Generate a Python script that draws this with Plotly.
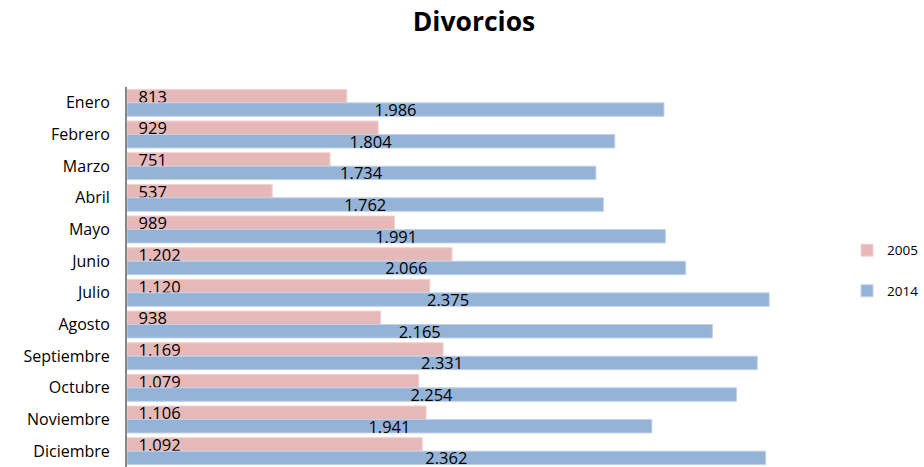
import plotly.graph_objects as go

months = ["Enero", "Febrero", "Marzo", "Abril", "Mayo", "Junio", "Julio",
          "Agosto", "Septiembre", "Octubre", "Noviembre", "Diciembre"]
v2005 = [813, 929, 751, 537, 989, 1202, 1120, 938, 1169, 1079, 1106, 1092]
v2014 = [1986, 1804, 1734, 1762, 1991, 2066, 2375, 2165, 2331, 2254, 1941, 2362]

FONT = "Open Sans"
NB = "\u00a0"

fig = go.Figure()
fig.add_trace(go.Bar(
    y=months, x=v2005, name="2005", orientation="h",
    marker=dict(color="#E6B9B8", line=dict(color="#F0D3D2", width=1)),
    texttemplate=NB * 2 + "%{x:,}", textposition="inside", insidetextanchor="start",
    constraintext="none", textangle=0,
    insidetextfont=dict(family=FONT, size=16.5, color="black"),
    legendgroup="a",
))
fig.add_trace(go.Bar(
    y=months, x=v2014, name="2014", orientation="h",
    marker=dict(color="#95B3D7", line=dict(color="#C0D2E8", width=1)),
    texttemplate="%{x:,}", textposition="inside", insidetextanchor="middle",
    constraintext="none", textangle=0,
    insidetextfont=dict(family=FONT, size=16.5, color="black"),
    legendgroup="b",
))

fig.update_layout(
    width=924, height=467,
    paper_bgcolor="white", plot_bgcolor="white",
    separators=",.",
    barmode="group", bargap=0.15, bargroupgap=0,
    margin=dict(l=127, r=121, t=87, b=0, autoexpand=False),
    font=dict(family=FONT, color="black"),
    title=dict(text="<b>Divorcios</b>", x=474 / 924, xanchor="center",
               y=1 - 22 / 467, yanchor="middle",
               font=dict(family=FONT, size=26.5, color="black")),
    xaxis=dict(range=[0, 2500], visible=False, showgrid=False, zeroline=False),
    yaxis=dict(autorange="reversed", showline=True, linecolor="#868686", linewidth=2,
               ticks="", ticklabelstandoff=12, automargin=False,
               tickfont=dict(family=FONT, size=16, color="black"),
               showgrid=False, zeroline=False),
    legend=dict(x=(847 - 127) / 676, y=0.516, xanchor="left", yanchor="middle",
                font=dict(family=FONT, size=13.5, color="black"), tracegroupgap=20),
    showlegend=True,
)

fig.write_html("out.html", config={"displayModeBar": False},
               post_script="document.body.style.margin='0';document.body.style.overflow='hidden';")
